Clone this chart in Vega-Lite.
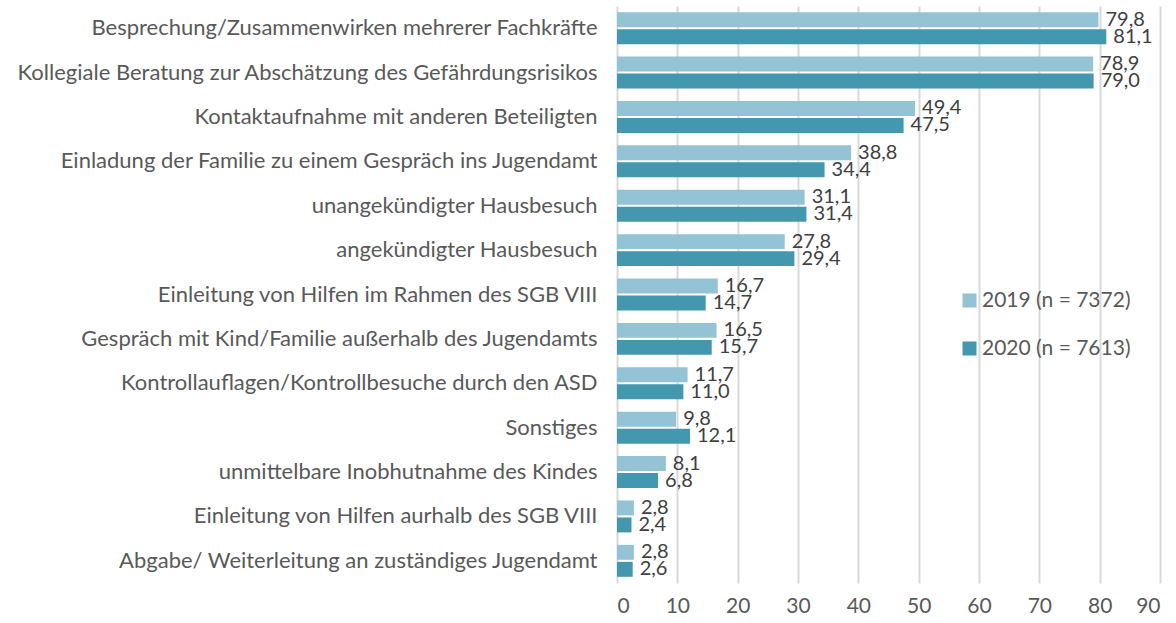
{
  "$schema": "https://vega.github.io/schema/vega-lite/v6.json",
  "width": 543,
  "height": 577,
  "autosize": {"type": "none"},
  "padding": {"left": 617, "top": 6, "right": 16, "bottom": 40},
  "background": "white",
  "config": {
    "view": {"stroke": null},
    "font": "Lato",
    "locale": {"number": {"decimal": ",", "thousands": ".", "grouping": [3], "currency": ["", " €"]}}
  },
  "data": {
    "values": [
      {"kat": "Besprechung/Zusammenwirken mehrerer Fachkräfte", "jahr": "2019 (n = 7372)", "wert": 79.8},
      {"kat": "Besprechung/Zusammenwirken mehrerer Fachkräfte", "jahr": "2020 (n = 7613)", "wert": 81.1},
      {"kat": "Kollegiale Beratung zur Abschätzung des Gefährdungsrisikos", "jahr": "2019 (n = 7372)", "wert": 78.9},
      {"kat": "Kollegiale Beratung zur Abschätzung des Gefährdungsrisikos", "jahr": "2020 (n = 7613)", "wert": 79.0},
      {"kat": "Kontaktaufnahme mit anderen Beteiligten", "jahr": "2019 (n = 7372)", "wert": 49.4},
      {"kat": "Kontaktaufnahme mit anderen Beteiligten", "jahr": "2020 (n = 7613)", "wert": 47.5},
      {"kat": "Einladung der Familie zu einem Gespräch ins Jugendamt", "jahr": "2019 (n = 7372)", "wert": 38.8},
      {"kat": "Einladung der Familie zu einem Gespräch ins Jugendamt", "jahr": "2020 (n = 7613)", "wert": 34.4},
      {"kat": "unangekündigter Hausbesuch", "jahr": "2019 (n = 7372)", "wert": 31.1},
      {"kat": "unangekündigter Hausbesuch", "jahr": "2020 (n = 7613)", "wert": 31.4},
      {"kat": "angekündigter Hausbesuch", "jahr": "2019 (n = 7372)", "wert": 27.8},
      {"kat": "angekündigter Hausbesuch", "jahr": "2020 (n = 7613)", "wert": 29.4},
      {"kat": "Einleitung von Hilfen im Rahmen des SGB VIII", "jahr": "2019 (n = 7372)", "wert": 16.7},
      {"kat": "Einleitung von Hilfen im Rahmen des SGB VIII", "jahr": "2020 (n = 7613)", "wert": 14.7},
      {"kat": "Gespräch mit Kind/Familie außerhalb des Jugendamts", "jahr": "2019 (n = 7372)", "wert": 16.5},
      {"kat": "Gespräch mit Kind/Familie außerhalb des Jugendamts", "jahr": "2020 (n = 7613)", "wert": 15.7},
      {"kat": "Kontrollauflagen/Kontrollbesuche durch den ASD", "jahr": "2019 (n = 7372)", "wert": 11.7},
      {"kat": "Kontrollauflagen/Kontrollbesuche durch den ASD", "jahr": "2020 (n = 7613)", "wert": 11.0},
      {"kat": "Sonstiges", "jahr": "2019 (n = 7372)", "wert": 9.8},
      {"kat": "Sonstiges", "jahr": "2020 (n = 7613)", "wert": 12.1},
      {"kat": "unmittelbare Inobhutnahme des Kindes", "jahr": "2019 (n = 7372)", "wert": 8.1},
      {"kat": "unmittelbare Inobhutnahme des Kindes", "jahr": "2020 (n = 7613)", "wert": 6.8},
      {"kat": "Einleitung von Hilfen aurhalb des SGB VIII", "jahr": "2019 (n = 7372)", "wert": 2.8},
      {"kat": "Einleitung von Hilfen aurhalb des SGB VIII", "jahr": "2020 (n = 7613)", "wert": 2.4},
      {"kat": "Abgabe/ Weiterleitung an zuständiges Jugendamt", "jahr": "2019 (n = 7372)", "wert": 2.8},
      {"kat": "Abgabe/ Weiterleitung an zuständiges Jugendamt", "jahr": "2020 (n = 7613)", "wert": 2.6}
    ]
  },
  "encoding": {
    "y": {
      "field": "kat", "type": "nominal", "sort": null,
      "scale": {"paddingInner": 0.28, "paddingOuter": 0.14},
      "axis": {"title": null, "domain": false, "ticks": false, "labelPadding": 20, "labelFontSize": 22, "labelColor": "#595959", "labelLimit": 620}
    },
    "yOffset": {
      "field": "jahr", "type": "nominal",
      "scale": {"paddingInner": 0.12}
    },
    "x": {
      "field": "wert", "type": "quantitative",
      "scale": {"domain": [0, 90], "nice": false},
      "axis": {"title": null, "values": [0,10,20,30,40,50,60,70,80,90], "domain": false, "ticks": false, "labelPadding": 12, "labelFontSize": 21, "labelColor": "#595959", "gridColor": "#d9d9d9", "gridWidth": 2}
    }
  },
  "layer": [
    {
      "mark": {"type": "bar"},
      "encoding": {
        "color": {
          "field": "jahr", "type": "nominal",
          "scale": {"range": ["#93c3d4", "#4397ae"]},
          "legend": {"title": null, "orient": "none", "legendX": 342, "legendY": 284, "symbolType": "square", "symbolSize": 196, "symbolStrokeWidth": 0, "labelFontSize": 21, "labelColor": "#595959", "rowPadding": 26, "labelOffset": 2}
        }
      }
    },
    {
      "mark": {"type": "text", "align": "left", "baseline": "middle", "dx": 7, "fontSize": 20, "color": "#404040"},
      "encoding": {
        "text": {"field": "wert", "type": "quantitative", "format": ".1f"}
      }
    }
  ]
}
